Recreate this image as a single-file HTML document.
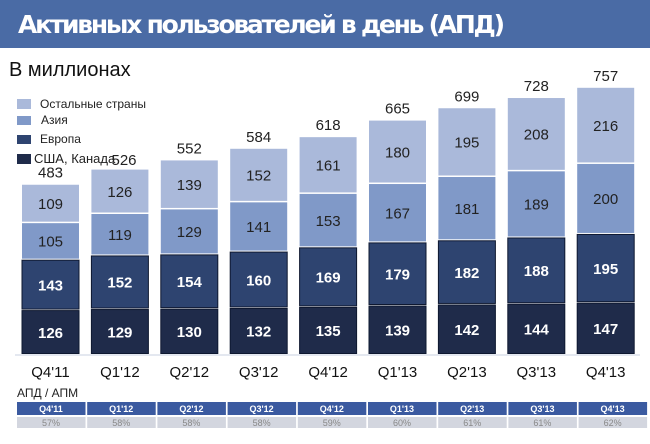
<!DOCTYPE html>
<html><head><meta charset="utf-8"><style>
body{margin:0;width:650px;height:439px;overflow:hidden;background:#fff;font-family:"Liberation Sans","DejaVu Sans",sans-serif}
</style></head><body>
<svg id="s" width="650" height="439" xmlns="http://www.w3.org/2000/svg" font-family="'Liberation Sans','DejaVu Sans',sans-serif">
<rect x="0" y="0" width="650" height="48" fill="#4a6ba5"/>
<text x="18" y="33" font-size="25" font-weight="bold" fill="#fff" font-family="'DejaVu Sans',sans-serif" textLength="487">Активных пользователей в день (АПД)</text>
<text x="9" y="76" font-size="20" fill="#111">В миллионах</text>
<rect x="17" y="99" width="14" height="10" fill="#aab9da"/><text x="40" y="108" font-size="12" fill="#222">Остальные страны</text>
<rect x="17" y="116" width="14" height="9" fill="#8099c8"/><text x="41" y="124" font-size="12" fill="#222">Азия</text>
<rect x="17" y="135" width="14" height="9" fill="#2e4470"/><text x="40" y="143" font-size="12" fill="#222">Европа</text>
<rect x="17" y="154" width="14" height="10" fill="#1f2b4a"/><text x="34" y="163" font-size="13" fill="#222">США, Канада</text>
<g id="g"></g>
<line x1="15" y1="355" x2="640" y2="355" stroke="#c8d0e0" stroke-width="1"/>
<text x="17" y="397" font-size="12" fill="#222">АПД / АПМ</text>
</svg>
<script>
var d=[[126,143,105,109],[129,152,119,126],[130,154,129,139],[132,160,141,152],[135,169,153,161],[139,179,167,180],[142,182,181,195],[144,188,189,208],[147,195,200,216]];
var tot=[483,526,552,584,618,665,699,728,757];
var q=["Q4'11","Q1'12","Q2'12","Q3'12","Q4'12","Q1'13","Q2'13","Q3'13","Q4'13"];
var p=["57%","58%","58%","58%","59%","60%","61%","61%","62%"];
var c=["#1f2b4a","#2e4470","#8099c8","#aab9da"],tc=["#fff","#fff","#222","#222"];
var s="",k=0.3525;
for(var i=0;i<9;i++){var x=22+69.4*i,w=57,y=354;
for(var j=0;j<4;j++){var h=d[i][j]*k;y-=h;
s+='<rect x="'+x+'" y="'+(y+1)+'" width="'+w+'" height="'+(h-1.5)+'" fill="'+c[j]+'"'+(j<2?' stroke="#0e1830" stroke-width="1"':'')+'/>';
s+='<text x="'+(x+w/2)+'" y="'+(y+h/2+6)+'" font-size="15" text-anchor="middle" fill="'+tc[j]+'"'+(j<2?' font-weight="bold"':'')+'>'+d[i][j]+'</text>';}
if(i==1){s+='<text x="124" y="165" font-size="15" text-anchor="middle" fill="#222">'+tot[i]+'</text>';}
else s+='<text x="'+(x+w/2)+'" y="'+(y-6)+'" font-size="15" text-anchor="middle" fill="#222">'+tot[i]+'</text>';
s+='<text x="'+(x+w/2)+'" y="377" font-size="15" text-anchor="middle" fill="#111">'+q[i]+'</text>';
var cx=17+70.2*i;
s+='<rect x="'+cx+'" y="402" width="68.5" height="13" fill="#3b5aa0"/>';
s+='<text x="'+(cx+34)+'" y="412" font-size="9" font-weight="bold" text-anchor="middle" fill="#fff">'+q[i]+'</text>';
s+='<rect x="'+cx+'" y="417" width="68.5" height="11" fill="#d3d6df"/>';
s+='<text x="'+(cx+34)+'" y="426" font-size="9" text-anchor="middle" fill="#888">'+p[i]+'</text>';}
document.getElementById("g").innerHTML=s;
</script>
</body></html>
